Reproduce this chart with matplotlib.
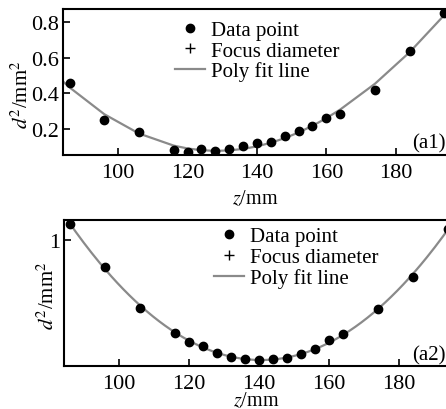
import numpy as np
import matplotlib
matplotlib.use("Agg")
import matplotlib.pyplot as plt

plt.rcParams['font.family'] = ['Liberation Serif', 'DejaVu Serif']
plt.rcParams['mathtext.fontset'] = 'stix'

# measurement positions (mm)
z = [86, 96, 106, 116, 120, 124, 128, 132, 136, 140, 144, 148, 152, 156, 160, 164, 174, 184, 194]

# d^2 values
d2_a1 = [0.456, 0.253, 0.182, 0.085, 0.074, 0.090, 0.076, 0.090, 0.106, 0.122,
         0.130, 0.160, 0.189, 0.217, 0.264, 0.284, 0.420, 0.638, 0.849]
d2_a2 = [1.128, 0.783, 0.462, 0.258, 0.186, 0.157, 0.099, 0.069, 0.051, 0.045,
         0.051, 0.059, 0.096, 0.135, 0.202, 0.255, 0.449, 0.704, 1.088]

z = np.array(z, dtype=float)

fig = plt.figure(figsize=(4.46, 4.10), dpi=100)
ax1 = fig.add_axes([0.142, 0.6195, 0.862, 0.356])
ax2 = fig.add_axes([0.1435, 0.1056, 0.861, 0.3556])

line_col = '#8a8a8a'


def draw(ax, d2, deg, xlim, zline):
    coef = np.polyfit(z, d2, deg)
    ax.plot(z, d2, 'o', color='black', ms=6, label='Data point', zorder=3)
    ax.plot([], [], '+', color='black', ms=7, mew=1.0, label='Focus diameter')
    ax.plot(zline, np.polyval(coef, zline), '-', color=line_col, lw=1.6,
            label='Poly fit line', zorder=2)
    ax.set_xlim(*xlim)
    ax.set_xticks([100, 120, 140, 160, 180])
    ax.tick_params(direction='in', length=5, width=1.2, labelsize=16,
                   top=False, right=False)
    ax.tick_params(axis='x', pad=6)
    ax.tick_params(axis='y', pad=3)
    for s in ax.spines.values():
        s.set_linewidth(1.5)
    ax.set_xlabel('$z$/mm', fontsize=14.5, va='top')


zl1 = np.concatenate([[84.2], z, [195.5]])
draw(ax1, d2_a1, 3, (84.2, 195.0), zl1)
ax1.set_ylim(0.055, 0.871)
ax1.set_yticks([0.2, 0.4, 0.6, 0.8])
ax1.set_yticklabels(['0.2', '0.4', '0.6', '0.8'])
ax1.set_ylabel('$d^2$/mm$^2$', fontsize=15)
ax1.yaxis.set_label_coords(-0.080, 0.42)
ax1.xaxis.set_label_coords(0.5, -0.235)
ax1.legend(loc='upper left', bbox_to_anchor=(0.27, 0.98), frameon=False,
           fontsize=15, handlelength=1.4, handletextpad=0.3, labelspacing=0.05,
           borderaxespad=0)
ax1.text(0.995, 0.02, '(a1)', transform=ax1.transAxes, ha='right', va='bottom',
         fontsize=15)

zl2 = np.linspace(83, 196, 200)
draw(ax2, d2_a2, 2, (84.2, 194.1), zl2)
ax2.set_ylim(0.0, 1.16)
ax2.set_yticks([1])
ax2.set_yticklabels(['1'])
ax2.set_ylabel('$d^2$/mm$^2$', fontsize=15)
ax2.yaxis.set_label_coords(-0.014, 0.49)
ax2.xaxis.set_label_coords(0.5, -0.174)
ax2.legend(loc='upper left', bbox_to_anchor=(0.37, 1.01), frameon=False,
           fontsize=15, handlelength=1.4, handletextpad=0.3, labelspacing=0.05,
           borderaxespad=0)
ax2.text(0.995, 0.01, '(a2)', transform=ax2.transAxes, ha='right', va='bottom',
         fontsize=15)

fig.savefig('out.png', dpi=100)
